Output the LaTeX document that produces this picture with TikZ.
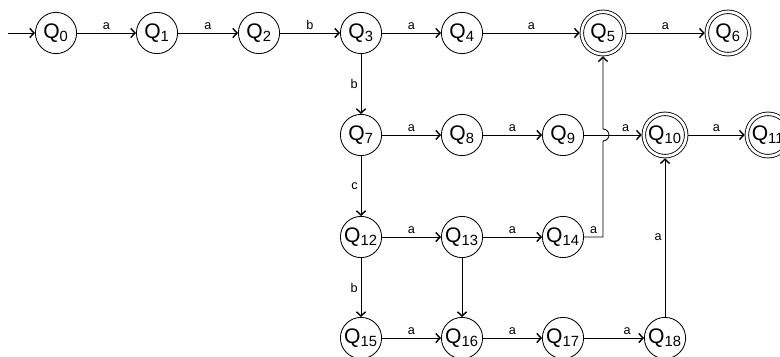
\documentclass[tikz,border=0pt]{standalone}
\usepackage{fontspec}
\setmainfont{Liberation Sans}
\usetikzlibrary{arrows.meta}

\begin{document}
\begin{tikzpicture}[x=0.025cm,y=0.025cm,line width=0.6pt,
  >={Straight Barb[length=3pt,width=6.5pt,line width=1pt]},
  state/.style={circle,draw,minimum size=1.03cm,inner sep=0pt,font=\fontsize{15}{15}\selectfont},
  final/.style={state,minimum size=1.06cm,double,double distance=1.9pt,outer sep=1.5pt},
  lbl/.style={font=\fontsize{9}{9}\selectfont,inner sep=2pt}]
\useasboundingbox (0,0) rectangle (780,356);
% states
\node[state] (q0) at (56,323) {Q\textsubscript{0}};
\node[state] (q1) at (157,323) {Q\textsubscript{1}};
\node[state] (q2) at (259,323) {Q\textsubscript{2}};
\node[state] (q3) at (361,323) {Q\textsubscript{3}};
\node[state] (q4) at (462,323) {Q\textsubscript{4}};
\node[final] (q5) at (603,323) {Q\textsubscript{5}};
\node[final] (q6) at (728,323) {Q\textsubscript{6}};
\node[state] (q7) at (361,221) {Q\textsubscript{7}};
\node[state] (q8) at (462,221) {Q\textsubscript{8}};
\node[state] (q9) at (563,221) {Q\textsubscript{9}};
\node[final] (q10) at (665,221) {Q\textsubscript{10}};
\node[final] (q11) at (768,221) {Q\textsubscript{11}};
\node[state] (q12) at (361,119) {Q\textsubscript{12}};
\node[state] (q13) at (462,119) {Q\textsubscript{13}};
\node[state] (q14) at (563,119) {Q\textsubscript{14}};
\node[state] (q15) at (361,18) {Q\textsubscript{15}};
\node[state] (q16) at (462,18) {Q\textsubscript{16}};
\node[state] (q17) at (563,18) {Q\textsubscript{17}};
\node[state] (q18) at (665,18) {Q\textsubscript{18}};
\coordinate (start) at (8,323);
% transitions
\draw[->] (start) -- (q0);
\draw[->] (q0) -- node[lbl,above] {a} (q1);
\draw[->] (q1) -- node[lbl,above] {a} (q2);
\draw[->] (q2) -- node[lbl,above] {b} (q3);
\draw[->] (q3) -- node[lbl,above] {a} (q4);
\draw[->] (q4) -- node[lbl,above] {a} (q5);
\draw[->] (q5) -- node[lbl,above] {a} (q6);
\draw[->] (q3) -- node[lbl,left] {b} (q7);
\draw[->] (q7) -- node[lbl,above] {a} (q8);
\draw[->] (q8) -- node[lbl,above] {a} (q9);
\draw[->] (q9) -- node[lbl,above,pos=0.72] {a} (q10);
\draw[->] (q10) -- node[lbl,above] {a} (q11);
\draw[->] (q7) -- node[lbl,left] {c} (q12);
\draw[->] (q12) -- node[lbl,above] {a} (q13);
\draw[->] (q13) -- node[lbl,above] {a} (q14);
\draw[->] (q14) -| node[lbl,above,pos=0.25] {a} ([yshift=-4.25pt]q9 -| q5)
  arc[start angle=-90,end angle=90,radius=4.25pt] -- (q5);
\draw[->] (q12) -- node[lbl,left] {b} (q15);
\draw[->] (q13) -- (q16);
\draw[->] (q15) -- node[lbl,above] {a} (q16);
\draw[->] (q16) -- node[lbl,above] {a} (q17);
\draw[->] (q17) -- node[lbl,above,pos=0.72] {a} (q18);
\draw[->] (q18) -- node[lbl,left] {a} (q10);
\end{tikzpicture}
\end{document}
